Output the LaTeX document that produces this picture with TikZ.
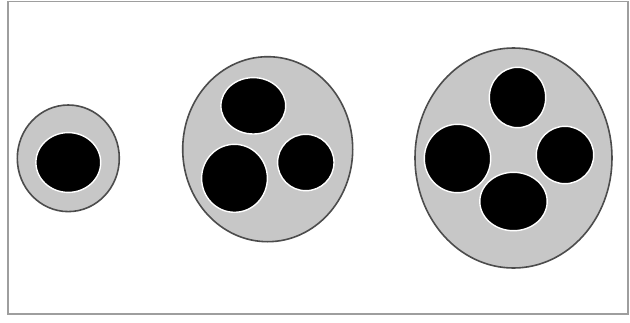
\documentclass[tikz,border=0pt]{standalone}
\begin{document}
\begin{tikzpicture}[x=1pt,y=-1pt,
  frame/.style={draw=black!38,line width=1.5pt},
  cellbody/.style={draw=black!70,fill=black!22,line width=1.6pt},
  nucleus/.style={draw=white,fill=black,line width=1.4pt}]
\useasboundingbox (0,0) rectangle (630,322);
\fill[white] (0,0) rectangle (630,322);
\draw[frame] (8,1.5) rectangle (628,314);
% small cell
\draw[cellbody] (68.3,158.3) ellipse [x radius=51,y radius=53.3];
\draw[nucleus] (68.3,162.5) ellipse [x radius=32.4,y radius=29.9];
% middle cell
\draw[cellbody] (267.7,149.2) ellipse [x radius=85,y radius=92.5];
\draw[nucleus] (253.3,105.8) ellipse [x radius=32.4,y radius=28.2];
\draw[nucleus] (234.5,178.3) ellipse [x radius=32.9,y radius=34];
\draw[nucleus] (305.8,162.5) ellipse [x radius=28.2,y radius=28.2];
% large cell
\draw[cellbody] (513.5,158) ellipse [x radius=98.5,y radius=110];
\draw[nucleus] (517.5,97.5) ellipse [x radius=28.2,y radius=30.2];
\draw[nucleus] (457.5,158.5) ellipse [x radius=33.2,y radius=34.2];
\draw[nucleus] (565,155) ellipse [x radius=28.7,y radius=28.7];
\draw[nucleus] (513.5,201.5) ellipse [x radius=33.7,y radius=29.2];
\end{tikzpicture}
\end{document}
